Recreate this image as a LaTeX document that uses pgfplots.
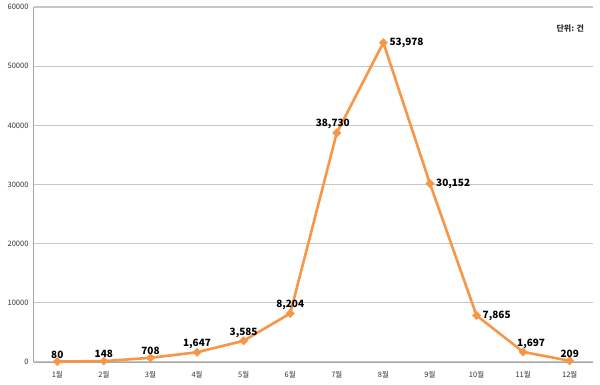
\documentclass[border=0pt]{standalone}
\usepackage{fontspec}
\setmainfont{Noto Sans CJK KR}
\usepackage{pgfplots}
\pgfplotsset{compat=1.18}
\definecolor{lineorange}{HTML}{F79646}
\definecolor{gridgray}{HTML}{C6C6C6}
\definecolor{axisgray}{HTML}{A6A6A6}
\begin{document}
\begin{tikzpicture}
\useasboundingbox (-34pt,-22pt) rectangle (566pt,362pt);
\begin{axis}[
  at={(0,0)}, anchor=south west,
  width=559pt, height=355pt, scale only axis,
  xmin=0.5, xmax=12.5, ymin=0, ymax=60000,
  xtick={1,...,12},
  xticklabels={1월,2월,3월,4월,5월,6월,7월,8월,9월,10월,11월,12월},
  ytick={0,10000,20000,30000,40000,50000,60000},
  /pgf/number format/assume math mode=true,
  /pgf/number format/1000 sep={},
  scaled y ticks=false,
  ymajorgrids,
  grid style={gridgray, line width=1.2pt},
  axis x line=bottom, axis y line=left,
  axis line style={-, axisgray, line width=1pt},
  major tick length=0pt,
  tick label style={font=\fontsize{7.5}{8}\selectfont, text=black!80},
  yticklabel style={xshift=-2pt},
  xticklabel style={yshift=-6pt},
  clip=false,
]
\addplot[lineorange, line width=2.6pt, mark=square*, mark size=3pt,
  mark options={fill=lineorange, draw=lineorange, line width=0.3pt, rotate=45}]
  coordinates {(1,80) (2,148) (3,708) (4,1647) (5,3585) (6,8204)
               (7,38730) (8,53978) (9,30152) (10,7865) (11,1697) (12,209)};
% labels above
\addplot[draw=none, mark=none, point meta=explicit symbolic,
  nodes near coords, nodes near coords align={above},
  every node near coord/.append style={font=\fontsize{10}{11}\bfseries, text=black, inner sep=2pt, yshift=1pt}]
  coordinates {(1,80)[80] (2,148)[148] (3,708)[708] (4,1647)[1,647] (5,3585)[3,585]
               (6,8204)[8,204] (12,209)[209]};
\addplot[draw=none, mark=none, point meta=explicit symbolic,
  nodes near coords, nodes near coords align={above},
  every node near coord/.append style={font=\fontsize{10}{11}\bfseries, text=black, inner sep=2pt, xshift=8pt, yshift=1pt}]
  coordinates {(11,1697)[1,697]};
\addplot[draw=none, mark=none, point meta=explicit symbolic,
  nodes near coords, nodes near coords align={above},
  every node near coord/.append style={font=\fontsize{10}{11}\bfseries, text=black, inner sep=2pt, xshift=-4pt, yshift=2pt}]
  coordinates {(7,38730)[38,730]};
% labels right
\addplot[draw=none, mark=none, point meta=explicit symbolic,
  nodes near coords, nodes near coords align={right},
  every node near coord/.append style={font=\fontsize{10}{11}\bfseries, text=black, inner sep=2pt, xshift=4pt}]
  coordinates {(8,53978)[53,978] (9,30152)[30,152] (10,7865)[7,865]};
\node[anchor=east, font=\fontsize{8}{9}\bfseries, text=black!85] at (rel axis cs:0.99,0.94) {단위: 건};
\end{axis}
\end{tikzpicture}
\end{document}
